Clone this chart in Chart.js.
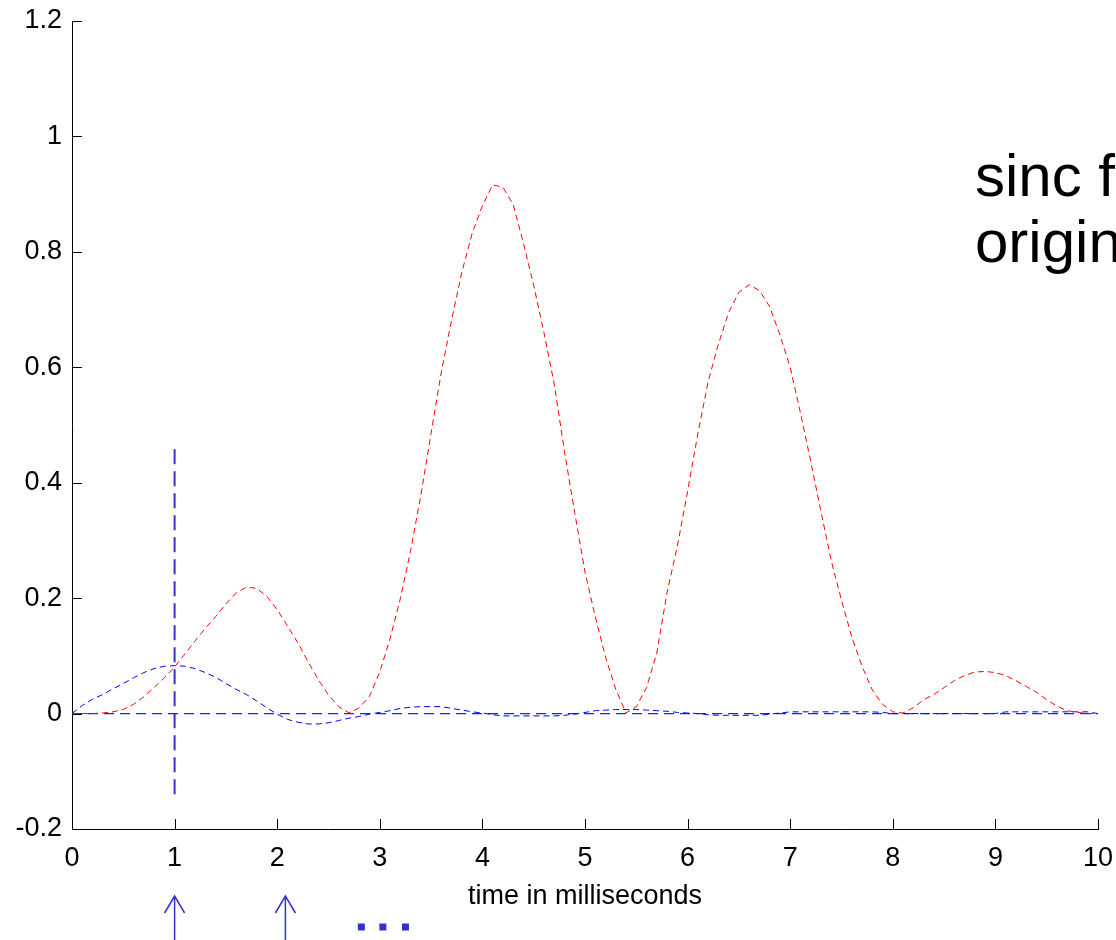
<!DOCTYPE html>
<html>
<head>
<meta charset="utf-8">
<script src="https://cdn.jsdelivr.net/npm/chart.js@4.4.1/dist/chart.umd.min.js"></script>
<style>
    html, body { margin: 0; padding: 0; background: #fff; overflow: hidden; }
    #chart { display: block; }
</style>
</head>
<body>
<canvas id="chart" width="1116" height="940"></canvas>
<script>
// reconstructed signal (red), sampled every 0.1 ms from 0 to 10
const redValues = [
    0, 0, 0, 0.001, 0.003, 0.007, 0.016, 0.029, 0.045, 0.062,
    0.081, 0.103, 0.126, 0.148, 0.168, 0.19, 0.209, 0.219, 0.217, 0.203,
    0.18, 0.152, 0.123, 0.09, 0.059, 0.032, 0.012, 0.001, 0.01, 0.03,
    0.072, 0.13, 0.199, 0.282, 0.378, 0.486, 0.592, 0.682, 0.765, 0.832,
    0.88, 0.916, 0.912, 0.882, 0.815, 0.742, 0.66, 0.571, 0.454, 0.348,
    0.245, 0.168, 0.098, 0.042, 0.001, 0.012, 0.045, 0.105, 0.21, 0.29,
    0.385, 0.485, 0.575, 0.64, 0.695, 0.73, 0.743, 0.733, 0.705, 0.656,
    0.6, 0.521, 0.437, 0.35, 0.265, 0.196, 0.133, 0.082, 0.041, 0.016,
    0.003, 0.001, 0.01, 0.024, 0.033, 0.045, 0.057, 0.066, 0.072, 0.073,
    0.071, 0.066, 0.057, 0.047, 0.037, 0.024, 0.013, 0.005, 0.002, 0,
    0
];

// single sinc contribution (blue), same sampling
const blueValues = [
    0, 0.014, 0.025, 0.033, 0.043, 0.052, 0.062, 0.071, 0.078, 0.082,
    0.083, 0.082, 0.078, 0.071, 0.063, 0.052, 0.042, 0.033, 0.022, 0.01,
    -0.001, -0.01, -0.015, -0.018, -0.018, -0.016, -0.012, -0.008, -0.005, -0.001,
    0.002, 0.005, 0.009, 0.011, 0.012, 0.012, 0.012, 0.009, 0.006, 0.003,
    0.001, -0.002, -0.004, -0.004, -0.004, -0.004, -0.004, -0.004, -0.003, -0.001,
    0.002, 0.005, 0.006, 0.007, 0.007, 0.007, 0.006, 0.005, 0.004, 0.002,
    0.001, 0, -0.002, -0.003, -0.003, -0.003, -0.003, -0.003, -0.001, 0.001,
    0.003, 0.003, 0.003, 0.003, 0.003, 0.003, 0.003, 0.003, 0.003, 0.002,
    0, 0, 0, 0, 0, 0, 0, 0, 0, 0,
    0, 0.003, 0.003, 0.003, 0.003, 0.003, 0.003, 0.003, 0.003, 0.003,
    0
];

const times = redValues.map((_, i) => i / 10);

// sample marker at t = 1 and the zero line
const sampleLine = [{ x: 1, y: -0.14 }, { x: 1, y: 0.46 }];
const zeroLine = [{ x: 0, y: 0 }, { x: 10, y: 0 }];

const xTicks = [0, 1, 2, 3, 4, 5, 6, 7, 8, 9, 10];
const yTicks = [-0.2, 0, 0.2, 0.4, 0.6, 0.8, 1, 1.2];

const arrowTimes = [1, 2.08];
const dotTimes = [2.82, 3.03, 3.25];
const noteLines = ['sinc functions', 'original samples'];

const toPoints = (vals) => vals.map((v, i) => ({ x: times[i], y: v }));

Chart.defaults.font.family = '"Liberation Sans", Arial, sans-serif';
Chart.defaults.color = '#000';

const INK = '#3333cc';

// kill label overhang padding so layout.padding alone sets the plot box
const noOverhang = s => {
    s.paddingLeft = 0;
    s.paddingRight = 0;
    s.paddingTop = 0;
    s.paddingBottom = 0;
};

const extras = {
    id: 'extras',
    afterDraw(chart) {
        const { ctx, chartArea: a, scales: { x, y } } = chart;
        ctx.save();

        // inward tick marks, matlab style
        ctx.strokeStyle = '#000';
        ctx.lineWidth = 1;
        ctx.beginPath();
        xTicks.forEach(t => {
            const px = Math.round(x.getPixelForValue(t)) + 0.5;
            ctx.moveTo(px, a.bottom);
            ctx.lineTo(px, a.bottom - 10);
        });
        yTicks.forEach(t => {
            const py = Math.round(y.getPixelForValue(t)) + 0.5;
            ctx.moveTo(a.left, py);
            ctx.lineTo(a.left + 10, py);
        });
        ctx.stroke();

        // note text, runs off the right edge
        ctx.fillStyle = '#000';
        ctx.font = '60px "Liberation Sans", Arial, sans-serif';
        ctx.textBaseline = 'alphabetic';
        ctx.textAlign = 'left';
        ctx.fillText(noteLines[0], 975, 196);
        ctx.fillText(noteLines[1], 975, 262);

        // sample arrows under the axis
        ctx.strokeStyle = INK;
        ctx.lineWidth = 1.5;
        arrowTimes.forEach(t => {
            const px = x.getPixelForValue(t);
            ctx.beginPath();
            ctx.moveTo(px, 940);
            ctx.lineTo(px, 896);
            ctx.moveTo(px - 10, 913);
            ctx.lineTo(px, 896);
            ctx.lineTo(px + 10, 913);
            ctx.stroke();
        });

        ctx.fillStyle = INK;
        dotTimes.forEach(t => {
            const px = x.getPixelForValue(t);
            ctx.fillRect(px - 3.5, 923.5, 7, 7);
        });

        ctx.restore();
    }
};

new Chart(document.getElementById('chart'), {
    type: 'line',
    data: {
        datasets: [
            {
                data: toPoints(redValues),
                borderColor: '#ff0000',
                borderWidth: 1,
                borderDash: [6, 4],
                pointRadius: 0,
                tension: 0
            },
            {
                data: toPoints(blueValues),
                borderColor: '#0000ff',
                borderWidth: 1,
                borderDash: [6, 4],
                pointRadius: 0,
                tension: 0
            },
            {
                data: zeroLine,
                borderColor: '#2020ff',
                borderWidth: 1.2,
                borderDash: [10, 6],
                pointRadius: 0
            },
            {
                data: sampleLine,
                borderColor: INK,
                borderWidth: 2,
                borderDash: [15, 7],
                pointRadius: 0
            }
        ]
    },
    options: {
        responsive: false,
        animation: false,
        events: [],
        layout: { padding: { top: 21, right: 18, left: 0, bottom: 0 } },
        plugins: {
            legend: { display: false },
            tooltip: { enabled: false }
        },
        scales: {
            x: {
                type: 'linear',
                min: 0,
                max: 10,
                afterFit: s => { s.height = 111; noOverhang(s); },
                afterBuildTicks: s => { s.ticks = xTicks.map(v => ({ value: v })); },
                grid: { display: false, drawTicks: false },
                border: { color: '#000', width: 1 },
                ticks: {
                    font: { size: 27 },
                    color: '#000',
                    padding: 13,
                    maxRotation: 0,
                    autoSkip: false
                },
                title: {
                    display: true,
                    text: 'time in milliseconds',
                    font: { size: 27 },
                    color: '#000',
                    padding: { top: 0, bottom: 27 }
                }
            },
            y: {
                min: -0.2,
                max: 1.2,
                afterFit: s => { s.width = 72; noOverhang(s); },
                afterBuildTicks: s => { s.ticks = yTicks.map(v => ({ value: v })); },
                grid: { display: false, drawTicks: false },
                border: { color: '#000', width: 1 },
                ticks: {
                    font: { size: 27 },
                    color: '#000',
                    padding: 10,
                    callback: v => String(Number(v.toFixed(1)))
                }
            }
        }
    },
    plugins: [extras]
});
</script>
</body>
</html>
